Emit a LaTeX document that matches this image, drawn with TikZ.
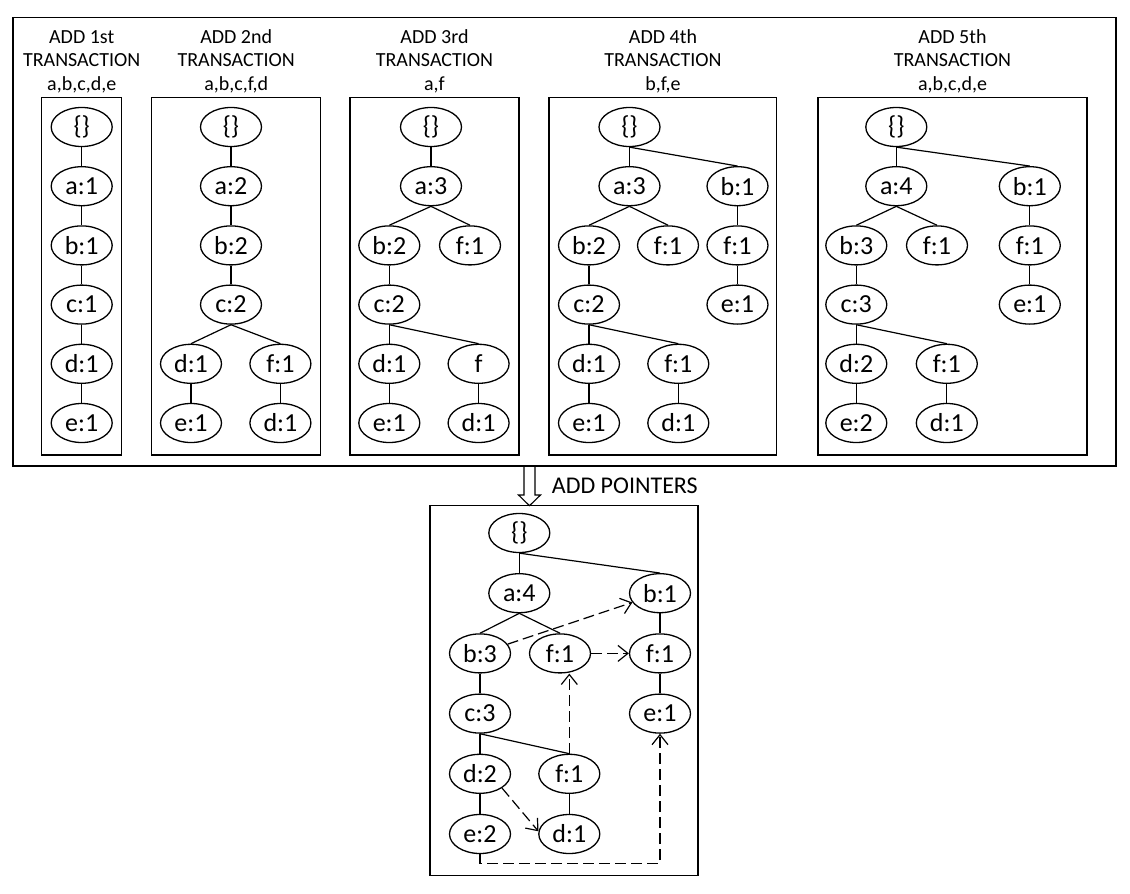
\documentclass[tikz,border=0pt]{standalone}
\usepackage{fontspec}
\setmainfont{Carlito}
\usetikzlibrary{arrows.meta,calc,shapes.geometric}
\begin{document}
\begin{tikzpicture}[x=1pt,y=-1pt,
  tn/.style={draw, ellipse, minimum width=61pt, minimum height=39pt, inner sep=0pt, line width=1.3pt, font=\fontsize{26}{29}\selectfont},
  ed/.style={line width=1.2pt},
  frame/.style={line width=1.4pt},
  outerframe/.style={line width=1.8pt},
  hd/.style={anchor=base, inner sep=0pt, font=\fontsize{20}{23}\selectfont},
  ptr/.style={line width=1.2pt, dash pattern=on 11pt off 5pt, -{Straight Barb[length=10pt,width=16pt]}}
]
\useasboundingbox (0,0) rectangle (1130,894);
\def\rA{127}\def\rB{186.2}\def\rC{245.4}\def\rD{304.6}\def\rE{363.8}\def\rF{423}
% frames
\draw[outerframe] (12.7,17.5) rectangle (1116,465.7);
\draw[frame] (41.7,97.7) rectangle (121.7,455);
\draw[frame] (151.7,97.7) rectangle (320.7,455);
\draw[frame] (350,97.7) rectangle (519,455);
\draw[frame] (549,97.7) rectangle (776.5,455);
\draw[frame] (818,97.7) rectangle (1087,455);
\draw[frame] (430,505.7) rectangle (698,875.7);
% headers
\foreach \cx/\n/\t in {81.7/1st/{a,b,c,d,e}, 236.2/2nd/{a,b,c,f,d}, 434.5/3rd/{a,f}, 663/4th/{b,f,e}, 952.5/5th/{a,b,c,d,e}}{
  \node[hd] (h1\n) at (\cx,43.3) {ADD \n};
  \node[hd] (h2\n) at (\cx,66.7) {TRANSACTION};
  \node[hd] (h3\n) at (\cx,90.3) {\t};
}
% ---- tree 1
\node[tn] (a0) at (81.7,\rA) {\{\}};
\node[tn] (a1) at (81.7,\rB) {a:1};
\node[tn] (a2) at (81.7,\rC) {b:1};
\node[tn] (a3) at (81.7,\rD) {c:1};
\node[tn] (a4) at (81.7,\rE) {d:1};
\node[tn] (a5) at (81.7,\rF) {e:1};
\foreach \p/\c in {a0/a1,a1/a2,a2/a3,a3/a4,a4/a5} \draw[ed] (\p.south) -- (\c.north);
% ---- tree 2
\node[tn] (b0) at (231,\rA) {\{\}};
\node[tn] (b1) at (231,\rB) {a:2};
\node[tn] (b2) at (231,\rC) {b:2};
\node[tn] (b3) at (231,\rD) {c:2};
\node[tn] (b4) at (191,\rE) {d:1};
\node[tn] (b5) at (280.4,\rE) {f:1};
\node[tn] (b6) at (191,\rF) {e:1};
\node[tn] (b7) at (280.4,\rF) {d:1};
\foreach \p/\c in {b0/b1,b1/b2,b2/b3,b3/b4,b3/b5,b4/b6,b5/b7} \draw[ed] (\p.south) -- (\c.north);
% ---- tree 3
\node[tn] (c0) at (431,\rA) {\{\}};
\node[tn] (c1) at (431,\rB) {a:3};
\node[tn] (c2) at (389.3,\rC) {b:2};
\node[tn] (c2f) at (470,\rC) {f:1};
\node[tn] (c3) at (389.3,\rD) {c:2};
\node[tn] (c4) at (389.3,\rE) {d:1};
\node[tn] (c5) at (478.6,\rE) {f};
\node[tn] (c6) at (389.3,\rF) {e:1};
\node[tn] (c7) at (478.6,\rF) {d:1};
\foreach \p/\c in {c0/c1,c1/c2,c1/c2f,c2/c3,c3/c4,c3/c5,c4/c6,c5/c7} \draw[ed] (\p.south) -- (\c.north);
% ---- tree 4
\node[tn] (d0) at (629.5,\rA) {\{\}};
\node[tn] (d1) at (629.5,\rB) {a:3};
\node[tn] (d1r) at (737.5,\rB) {b:1};
\node[tn] (d2) at (589,\rC) {b:2};
\node[tn] (d2f) at (668,\rC) {f:1};
\node[tn] (d2r) at (737.5,\rC) {f:1};
\node[tn] (d3) at (589,\rD) {c:2};
\node[tn] (d3r) at (737.5,\rD) {e:1};
\node[tn] (d4) at (589,\rE) {d:1};
\node[tn] (d5) at (678.3,\rE) {f:1};
\node[tn] (d6) at (589,\rF) {e:1};
\node[tn] (d7) at (678.3,\rF) {d:1};
\foreach \p/\c in {d0/d1,d0/d1r,d1/d2,d1/d2f,d1r/d2r,d2r/d3r,d2/d3,d3/d4,d3/d5,d4/d6,d5/d7} \draw[ed] (\p.south) -- (\c.north);
% ---- tree 5
\node[tn] (e0) at (896.3,\rA) {\{\}};
\node[tn] (e1) at (896.3,\rB) {a:4};
\node[tn] (e1r) at (1029.8,\rB) {b:1};
\node[tn] (e2) at (856.3,\rC) {b:3};
\node[tn] (e2f) at (937,\rC) {f:1};
\node[tn] (e2r) at (1029.8,\rC) {f:1};
\node[tn] (e3) at (856.3,\rD) {c:3};
\node[tn] (e3r) at (1029.8,\rD) {e:1};
\node[tn] (e4) at (856.3,\rE) {d:2};
\node[tn] (e5) at (946.8,\rE) {f:1};
\node[tn] (e6) at (856.3,\rF) {e:2};
\node[tn] (e7) at (946.8,\rF) {d:1};
\foreach \p/\c in {e0/e1,e0/e1r,e1/e2,e1/e2f,e1r/e2r,e2r/e3r,e2/e3,e3/e4,e3/e5,e4/e6,e5/e7} \draw[ed] (\p.south) -- (\c.north);
% ---- arrow between
\coordinate (atop) at (529.5,465.7);
\coordinate (atip) at (529.5,505.7);
\draw[line width=1.1pt, line join=miter] ($(atop)+(-5.5,0)$) -- ++(0,29.3) -- ++(-5.5,0) -- (atip) -- ($(atop)+(11,29.3)$) -- ++(-5.5,0) -- ($(atop)+(5.5,0)$);
\node[anchor=base west, inner sep=0pt, font=\fontsize{24}{27}\selectfont] (addp) at (551.7,493.3) {ADD POINTERS};
% ---- final tree
\def\sA{533}\def\sB{593.2}\def\sC{653.4}\def\sD{713.6}\def\sE{773.8}\def\sF{834}
\node[tn] (p0) at (519.3,\sA) {\{\}};
\node[tn] (p1) at (519.3,\sB) {a:4};
\node[tn] (p1r) at (660,\sB) {b:1};
\node[tn] (p2) at (480,\sC) {b:3};
\node[tn] (p2f) at (560,\sC) {f:1};
\node[tn] (p2r) at (660,\sC) {f:1};
\node[tn] (p3) at (480,\sD) {c:3};
\node[tn] (p3r) at (660,\sD) {e:1};
\node[tn] (p4) at (480,\sE) {d:2};
\node[tn] (p5) at (569.3,\sE) {f:1};
\node[tn] (p6) at (480,\sF) {e:2};
\node[tn] (p7) at (569.3,\sF) {d:1};
\foreach \p/\c in {p0/p1,p0/p1r,p1/p2,p1/p2f,p1r/p2r,p2r/p3r,p2/p3,p3/p4,p3/p5,p4/p6,p5/p7} \draw[ed] (\p.south) -- (\c.north);
% pointers
\draw[ptr] (p2) -- (p1r);
\draw[ptr] (p2f.east) -- (p2r.west);
\draw[ptr] (p5.north) -- (p5.north |- p2f.south);
\draw[ptr] (p4.south east) -- (p7.175);
\draw[ptr] (p6.south) -- ++(0,9) -| (p3r.south);
\end{tikzpicture}
\end{document}
